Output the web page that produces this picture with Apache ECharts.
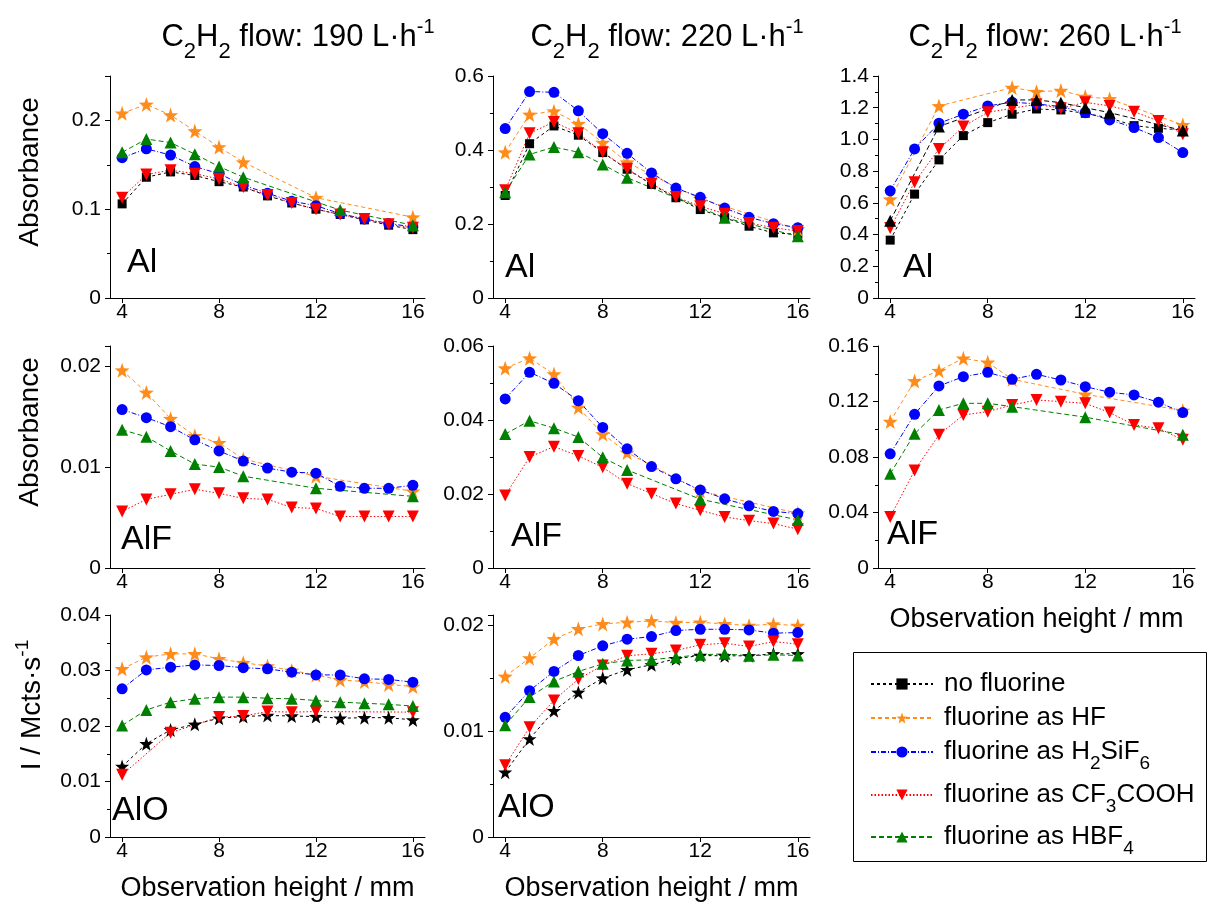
<!DOCTYPE html>
<html><head><meta charset="utf-8">
<script src="https://cdn.jsdelivr.net/npm/echarts@6/dist/echarts.min.js"></script>
<style>html,body{margin:0;padding:0;background:#fff}#c{width:1209px;height:906px}</style>
</head><body><div id="c"></div>
<script>
// ---------------- DATA ----------------
const heights = [4,5,6,7,8,9,10,11,12,13,14,15,16];
const xTicks = [4,8,12,16];
const seriesNames = ['no fluorine','fluorine as HF','fluorine as H2SiF6','fluorine as CF3COOH','fluorine as HBF4'];
const columnTitles = ['190','220','260'];

// Al, 190 L/h
const al190_noF  = [0.106,0.136,0.142,0.138,0.131,0.125,0.115,0.107,0.100,0.094,0.088,0.082,0.077];
const al190_HF   = [0.208,0.218,0.206,0.188,0.170,0.153,null,null,0.113,null,null,null,0.091];
const al190_SiF  = [0.158,0.168,0.161,0.148,0.140,0.127,0.118,0.109,0.104,0.095,0.089,0.084,0.080];
const al190_CF3  = [0.113,0.139,0.144,0.140,0.134,0.125,0.116,0.107,0.100,0.094,0.089,0.083,0.079];
const al190_HBF4 = [0.164,0.179,0.175,0.162,0.148,0.136,null,null,null,0.099,null,null,0.082];
// Al, 220 L/h
const al220_noF  = [0.277,0.417,0.465,0.440,0.393,0.348,0.307,0.271,0.239,0.217,0.194,0.176,0.172];
const al220_HF   = [0.394,0.496,0.505,0.471,0.420,0.367,0.333,null,0.268,null,null,null,0.186];
const al220_SiF  = [0.458,0.558,0.556,0.506,0.444,0.391,0.338,0.297,0.272,0.243,0.218,0.201,0.190];
const al220_CF3  = [0.291,0.445,0.476,0.445,0.394,0.349,0.309,0.273,0.248,0.228,0.203,0.190,0.181];
const al220_HBF4 = [0.286,0.388,0.408,0.394,0.361,0.325,null,null,null,0.217,null,null,0.167];
// Al, 260 L/h
const al260_noF  = [0.365,0.655,0.871,1.024,1.106,1.159,1.192,1.186,1.165,1.135,1.087,1.070,1.060];
const al260_HF   = [0.623,null,1.211,null,null,1.327,1.301,1.308,1.270,1.255,null,null,1.092];
const al260_SiF  = [0.676,0.940,1.102,1.159,1.211,1.235,1.224,1.207,1.169,1.123,1.075,1.012,0.917];
const al260_CF3  = [0.441,0.730,0.940,1.081,1.171,1.196,1.222,1.196,1.234,1.211,1.175,1.117,1.033];
const al260_HBF4 = [0.487,null,1.081,null,null,1.249,1.249,1.232,1.200,1.169,null,null,1.056];
// AlF, 190 L/h
const alf190_HF   = [0.0196,0.0174,0.0148,0.0131,0.0124,0.0108,null,null,0.0091,null,null,null,0.0076];
const alf190_SiF  = [0.0157,0.0149,0.0140,0.0127,0.0116,0.0106,0.0099,0.0095,0.0094,0.0081,0.0079,0.0079,0.0082];
const alf190_CF3  = [0.0056,0.0068,0.0073,0.0078,0.0074,0.0069,0.0068,0.0060,0.0059,0.0051,0.0051,0.0051,0.0051];
const alf190_HBF4 = [0.0137,0.0130,0.0116,0.0103,0.0100,0.0091,null,null,0.0079,null,null,null,0.0071];
// AlF, 220 L/h
const alf220_HF   = [0.0540,0.0567,0.0524,0.0434,0.0362,0.0312,null,null,0.0208,null,null,null,0.0148];
const alf220_SiF  = [0.0457,0.0529,0.0499,0.0452,0.0380,0.0322,0.0274,0.0241,0.0211,0.0187,0.0168,0.0153,0.0147];
const alf220_CF3  = [0.0196,0.0300,0.0328,0.0303,0.0272,0.0228,0.0201,0.0174,0.0156,0.0138,0.0128,0.0120,0.0105];
const alf220_HBF4 = [0.0362,0.0398,0.0378,0.0354,0.0299,0.0265,null,null,0.0186,null,null,null,0.0130];
// AlF, 260 L/h
const alf260_HF   = [0.1055,0.1348,0.1422,0.1511,0.1482,0.1360,null,null,0.1252,null,null,null,0.1135];
const alf260_SiF  = [0.0823,0.1108,0.1312,0.1379,0.1410,0.1360,0.1396,0.1355,0.1307,0.1267,0.1247,0.1195,0.1120];
const alf260_CF3  = [0.0367,0.0703,0.0960,0.1103,0.1127,0.1175,0.1211,0.1199,0.1187,0.1120,0.1031,0.1007,0.0924];
const alf260_HBF4 = [0.0679,0.0967,0.1139,0.1187,0.1187,0.1163,null,null,0.1087,null,null,null,0.0960];
// AlO, 190 L/h
const alo190_noF  = [0.0127,0.0168,0.0193,0.0203,0.0214,0.0217,0.0219,0.0218,0.0217,0.0214,0.0215,0.0215,0.0211];
const alo190_HF   = [0.0303,0.0324,0.0330,0.0330,0.0321,0.0314,0.0308,0.0300,0.0292,0.0283,0.0280,0.0275,0.0271];
const alo190_SiF  = [0.0267,0.0301,0.0306,0.0310,0.0309,0.0305,0.0303,0.0297,0.0292,0.0292,0.0285,0.0284,0.0279];
const alo190_CF3  = [0.0112,null,0.0188,null,0.0216,0.0218,0.0226,0.0225,0.0226,null,null,null,0.0225];
const alo190_HBF4 = [0.0201,0.0229,0.0243,0.0249,0.0252,0.0252,0.0250,0.0249,0.0246,0.0243,0.0241,0.0239,0.0236];
// AlO, 220 L/h
const alo220_noF  = [0.00613,0.00928,0.01195,0.01368,0.01503,0.01582,0.01629,0.01686,0.01717,0.01714,0.01714,0.01733,0.01733];
const alo220_HF   = [0.01519,0.01692,0.01874,0.01969,0.02016,0.02031,0.02044,0.02028,0.02031,0.02016,0.02000,0.02013,0.02000];
const alo220_SiF  = [0.01132,0.01384,0.01566,0.01717,0.01808,0.01871,0.01896,0.01953,0.01965,0.01965,0.01959,0.01928,0.01934];
const alo220_CF3  = [0.00679,0.01038,0.01292,0.01494,0.01623,0.01714,0.01733,0.01764,0.01818,0.01833,0.01802,0.01849,0.01824];
const alo220_HBF4 = [0.01057,0.01324,0.01472,0.01566,0.01638,0.01670,0.01676,0.01701,0.01723,0.01733,0.01714,0.01723,0.01717];

// ---------------- STYLE / LAYOUT ----------------
const FONT = '"Liberation Sans", Arial, sans-serif';
const STAR = 'path://M12,0 L14.9,8.6 L24,8.8 L16.8,14.3 L19.4,23 L12,17.9 L4.6,23 L7.2,14.3 L0,8.8 L9.1,8.6 Z';
const STYLE = {
  'no fluorine':         {color:'#000000', symbol:'rect', size:9, dash:[3,3]},
  'fluorine as HF':      {color:'#FF8C1A', symbol:STAR, size:15, dash:[4,3]},
  'fluorine as H2SiF6':  {color:'#0000FF', symbol:'circle', size:11, dash:[5,2,1,2]},
  'fluorine as CF3COOH': {color:'#FF0000', symbol:'triangle', size:12, rotate:180, dash:[1.5,2]},
  'fluorine as HBF4':    {color:'#008000', symbol:'triangle', size:12, dash:[5,3]}
};
const colLeft = [110,493,878], colW = [315,317,317];
const rowTop = [76,346,615], rowH = 222;

function mk(noF, hf, sif, cf3, hbf4) {
  const o = {};
  if (noF) o['no fluorine'] = noF;
  o['fluorine as HF'] = hf; o['fluorine as H2SiF6'] = sif;
  o['fluorine as CF3COOH'] = cf3; o['fluorine as HBF4'] = hbf4;
  return o;
}
const panels = [
  {r:0,c:0,max:0.25,int:0.1,minor:2,label:'Al',lp:[127,263],s:mk(al190_noF,al190_HF,al190_SiF,al190_CF3,al190_HBF4)},
  {r:0,c:1,max:0.6,int:0.2,minor:2,label:'Al',lp:[505,268],s:mk(al220_noF,al220_HF,al220_SiF,al220_CF3,al220_HBF4)},
  {r:0,c:2,max:1.4,int:0.2,minor:2,dec:1,label:'Al',lp:[903,268],s:mk(al260_noF,al260_HF,al260_SiF,al260_CF3,al260_HBF4),
    over:{'fluorine as HBF4':{color:'#000000'}}},
  {r:1,c:0,max:0.022,int:0.01,minor:0,label:'AlF',lp:[121,540],s:mk(null,alf190_HF,alf190_SiF,alf190_CF3,alf190_HBF4)},
  {r:1,c:1,max:0.06,int:0.02,minor:2,label:'AlF',lp:[511,537],s:mk(null,alf220_HF,alf220_SiF,alf220_CF3,alf220_HBF4)},
  {r:1,c:2,max:0.16,int:0.04,minor:2,label:'AlF',lp:[887,535],xname:true,s:mk(null,alf260_HF,alf260_SiF,alf260_CF3,alf260_HBF4)},
  {r:2,c:0,max:0.04,int:0.01,minor:2,label:'AlO',lp:[112,811],xname:true,s:mk(alo190_noF,alo190_HF,alo190_SiF,alo190_CF3,alo190_HBF4),
    over:{'no fluorine':{symbol:STAR,size:14}}},
  {r:2,c:1,max:0.021,int:0.01,minor:2,label:'AlO',lp:[498,808],xname:true,s:mk(alo220_noF,alo220_HF,alo220_SiF,alo220_CF3,alo220_HBF4),
    over:{'no fluorine':{symbol:STAR,size:14}}}
];

const grid = [], xAxis = [], yAxis = [], series = [], graphic = [];
panels.forEach((p, i) => {
  grid.push({left:colLeft[p.c], top:rowTop[p.r], width:colW[p.c], height:rowH, outerBoundsMode:'none', containLabel:false});
  xAxis.push({
    type:'value', gridIndex:i, min:3.5, max:16.5,
    axisLine:{show:true, onZero:false, lineStyle:{color:'#000', width:1}},
    axisTick:{show:true, customValues:xTicks, length:5, inside:false, lineStyle:{color:'#000'}},
    axisLabel:{customValues:xTicks, fontSize:21, fontFamily:FONT, color:'#000', margin:4},
    splitLine:{show:false},
    name: p.xname ? 'Observation height / mm' : '', nameLocation:'middle', nameGap:38,
    nameTextStyle:{fontSize:27, fontFamily:FONT, color:'#000'}
  });
  yAxis.push({
    type:'value', gridIndex:i, min:0, max:p.max, interval:p.int,
    axisLine:{show:true, onZero:false, lineStyle:{color:'#000', width:1}},
    axisTick:{show:true, length:5, inside:false, lineStyle:{color:'#000'}},
    minorTick:{show:p.minor>0, splitNumber:p.minor||5, length:3, lineStyle:{color:'#000'}},
    axisLabel:{fontSize:21, fontFamily:FONT, color:'#000', margin:9, showMaxLabel:true,
      formatter: v => { const r = v / p.int; if (Math.abs(r - Math.round(r)) > 1e-6) return '';
        if (v === 0) return '0'; return p.dec != null ? v.toFixed(p.dec) : String(+v.toFixed(4)); }},
    splitLine:{show:false}, minorSplitLine:{show:false}
  });
  seriesNames.forEach(name => {
    const vals = p.s[name]; if (!vals) return;
    const st = Object.assign({}, STYLE[name], (p.over || {})[name] || {});
    series.push({
      name, type:'line', xAxisIndex:i, yAxisIndex:i,
      data: heights.map((h, k) => vals[k] == null ? null : [h, vals[k]]).filter(Boolean),
      symbol: st.symbol, symbolSize: st.size, symbolRotate: st.rotate || 0,
      showSymbol:true, showAllSymbol:true, connectNulls:true, animation:false,
      lineStyle:{color:st.color, width:1, type:st.dash},
      itemStyle:{color:st.color, borderWidth:0},
      emphasis:{disabled:true}
    });
  });
  graphic.push({type:'text', x:p.lp[0], y:p.lp[1], style:{text:p.label, fontSize:34, fontFamily:FONT, fill:'#000', align:'left', verticalAlign:'middle'}});
});

// column titles
const titleRich = {n:{fontSize:31, fontFamily:FONT, color:'#000'},
  s:{fontSize:22, fontFamily:FONT, color:'#000', padding:[30,0,0,0]},
  p:{fontSize:20, fontFamily:FONT, color:'#000', padding:[0,0,20,0]}};
const titleX = [298, 667, 1045];
columnTitles.forEach((t, c) => {
  graphic.push({type:'text', x:titleX[c], y:37, style:{
    text:'{n|C}{s|2}{n|H}{s|2}{n| flow: ' + t + ' L·h}{p|-1}', rich:titleRich,
    align:'center', verticalAlign:'middle', fill:'#000'}});
});
// y axis titles
graphic.push({type:'text', x:30, y:172, rotation:Math.PI/2, style:{text:'Absorbance', fontSize:28, fontFamily:FONT, fill:'#000', align:'center', verticalAlign:'middle'}});
graphic.push({type:'text', x:30, y:432, rotation:Math.PI/2, style:{text:'Absorbance', fontSize:28, fontFamily:FONT, fill:'#000', align:'center', verticalAlign:'middle'}});
graphic.push({type:'text', x:32, y:705, rotation:Math.PI/2, style:{text:'{n|I / Mcts·s}{p|-1}', align:'center', verticalAlign:'middle',
  rich:{n:{fontSize:28, fontFamily:FONT, color:'#000'}, p:{fontSize:19, fontFamily:FONT, color:'#000', padding:[0,0,18,0]}}}});
// legend box
graphic.push({type:'rect', shape:{x:853.5, y:652.5, width:353, height:209}, style:{fill:'none', stroke:'#000', lineWidth:1}, z:-1});

// legends (one per entry, to place each row exactly)
const legendLabels = {
  'no fluorine': '{n|no fluorine}',
  'fluorine as HF': '{n|fluorine as HF}',
  'fluorine as H2SiF6': '{n|fluorine as H}{s|2}{n|SiF}{s|6}',
  'fluorine as CF3COOH': '{n|fluorine as CF}{s|3}{n|COOH}',
  'fluorine as HBF4': '{n|fluorine as HBF}{s|4}'
};
const legendY = [678, 712, 746, 789, 831];
const legend = seriesNames.map((name, k) => ({
  data:[name], left:870, top:legendY[k] - 7, orient:'vertical', itemWidth:62, itemHeight:14, itemGap:0,
  selectedMode:false, padding:0,
  formatter: n => legendLabels[n],
  textStyle:{color:'#000', fontFamily:FONT, fontSize:26, padding:[0,0,0,6],
    rich:{n:{fontSize:26, fontFamily:FONT, color:'#000'}, s:{fontSize:19, fontFamily:FONT, color:'#000', padding:[24,0,0,0]}}}
}));

const chart = echarts.init(document.getElementById('c'), null, {renderer:'canvas'});
chart.setOption({backgroundColor:'#fff', animation:false, grid, xAxis, yAxis, series, legend, graphic});
</script></body></html>
